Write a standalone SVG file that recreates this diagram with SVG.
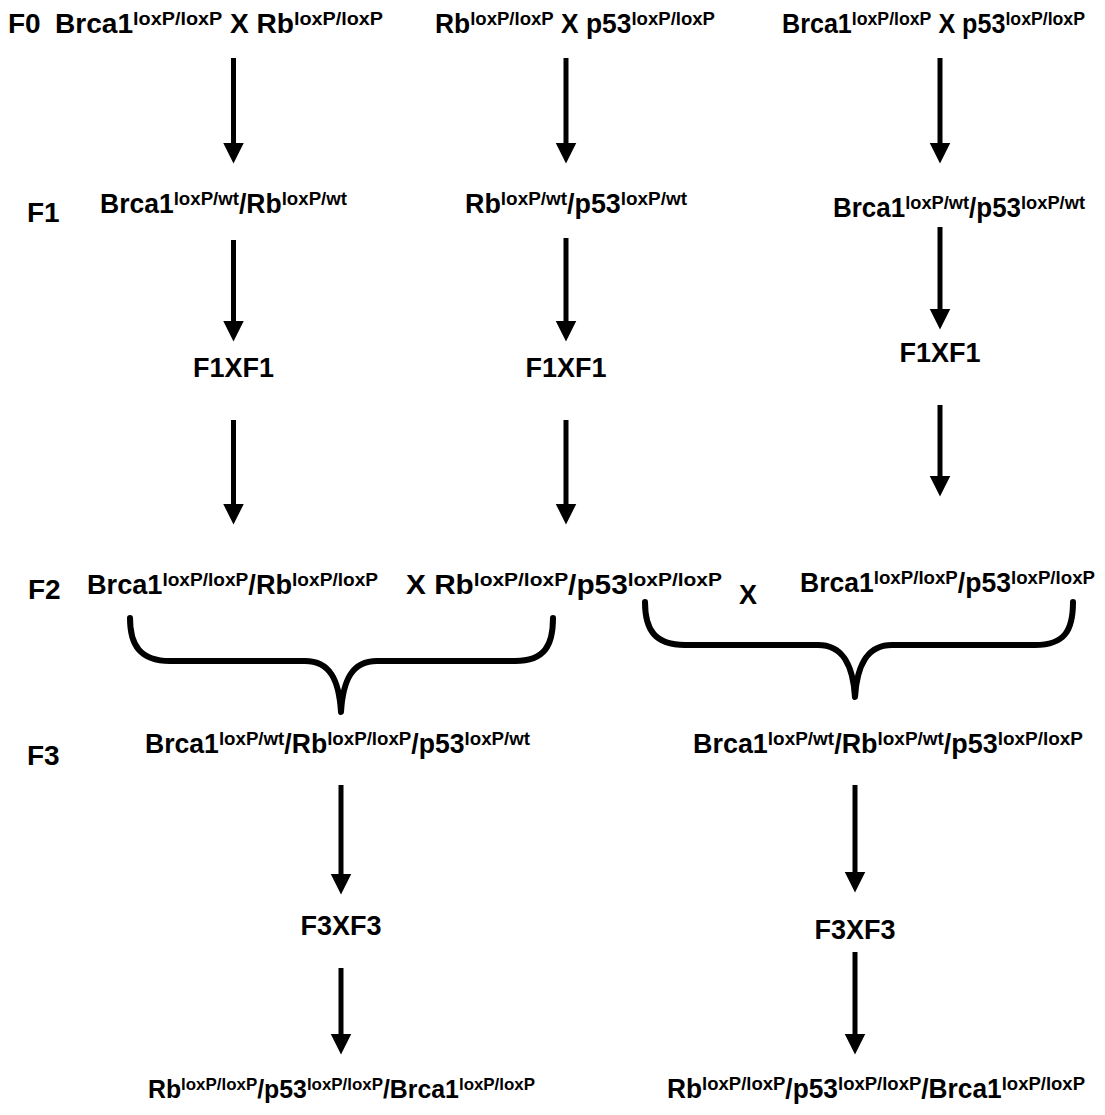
<svg xmlns="http://www.w3.org/2000/svg" width="1105" height="1115" viewBox="0 0 1105 1115">
<style>
text{font-family:"Liberation Sans",Arial,sans-serif;font-weight:bold;fill:#000;font-size:27px}
.s{font-size:19px}
.lbl{font-size:28px}
.sm{font-size:25px}
.sm .s{font-size:17px}
.arr{stroke:#000;stroke-width:5;fill:none;marker-end:url(#ah)}
.brace{stroke:#000;stroke-width:6;fill:none;stroke-linecap:round;stroke-linejoin:round}
</style>
<defs>
<marker id="ah" markerUnits="userSpaceOnUse" markerWidth="22" markerHeight="22" refX="0.5" refY="10.5" orient="auto">
<path d="M0,0 L21,10.5 L0,21 z" fill="#000"/>
</marker>
</defs>
<rect width="1105" height="1115" fill="#fff"/>
<g id="connectors">
<line class="arr" x1="233.5" y1="58" x2="233.5" y2="143"/>
<line class="arr" x1="566" y1="58" x2="566" y2="143"/>
<line class="arr" x1="940" y1="58" x2="940" y2="143"/>
<line class="arr" x1="233.5" y1="240" x2="233.5" y2="321"/>
<line class="arr" x1="566" y1="238" x2="566" y2="321"/>
<line class="arr" x1="940" y1="227" x2="940" y2="309"/>
<line class="arr" x1="233.5" y1="420" x2="233.5" y2="504"/>
<line class="arr" x1="566" y1="420" x2="566" y2="504"/>
<line class="arr" x1="940" y1="405" x2="940" y2="476"/>
<line class="arr" x1="341" y1="785" x2="341" y2="874"/>
<line class="arr" x1="855" y1="785" x2="855" y2="872"/>
<line class="arr" x1="341" y1="968" x2="341" y2="1034"/>
<line class="arr" x1="855" y1="952" x2="855" y2="1034"/>
<path class="brace" d="M130,618 C130,645 140,661 170,661 L305,661 C330,661 339,680 341,712 C343,680 352,661 377,661 L515,661 C545,661 553,645 553,618"/>
<path class="brace" d="M645,602 C645,630 655,645 685,645 L818,645 C843,645 853,665 855,697 C857,665 867,645 892,645 L1035,645 C1065,645 1073,630 1073,602"/>
</g>
<g id="labels">
<text class="lbl" x="8" y="33">F0</text>
<text class="lbl" x="27" y="222">F1</text>
<text class="lbl" x="28" y="599">F2</text>
<text class="lbl" x="27" y="765">F3</text>
</g>
<g id="f0-left"><text x="55" y="33" textLength="328" lengthAdjust="spacingAndGlyphs">Brca1<tspan class="s" dy="-8">loxP/loxP</tspan><tspan dy="8"> X Rb</tspan><tspan class="s" dy="-8">loxP/loxP</tspan></text></g>
<g id="f0-mid"><text x="435" y="33" textLength="280" lengthAdjust="spacingAndGlyphs">Rb<tspan class="s" dy="-8">loxP/loxP</tspan><tspan dy="8"> X p53</tspan><tspan class="s" dy="-8">loxP/loxP</tspan></text></g>
<g id="f0-right"><text x="782" y="33" textLength="303" lengthAdjust="spacingAndGlyphs">Brca1<tspan class="s" dy="-8">loxP/loxP</tspan><tspan dy="8"> X p53</tspan><tspan class="s" dy="-8">loxP/loxP</tspan></text></g>
<g id="f1-left"><text x="100" y="213" textLength="247" lengthAdjust="spacingAndGlyphs">Brca1<tspan class="s" dy="-8">loxP/wt</tspan><tspan dy="8">/Rb</tspan><tspan class="s" dy="-8">loxP/wt</tspan></text></g>
<g id="f1-mid"><text x="465" y="213" textLength="222" lengthAdjust="spacingAndGlyphs">Rb<tspan class="s" dy="-8">loxP/wt</tspan><tspan dy="8">/p53</tspan><tspan class="s" dy="-8">loxP/wt</tspan></text></g>
<g id="f1-right"><text x="833" y="217" textLength="252" lengthAdjust="spacingAndGlyphs">Brca1<tspan class="s" dy="-8">loxP/wt</tspan><tspan dy="8">/p53</tspan><tspan class="s" dy="-8">loxP/wt</tspan></text></g>
<g id="f1xf1-left"><text x="233.5" y="377" text-anchor="middle">F1XF1</text></g>
<g id="f1xf1-mid"><text x="566" y="377" text-anchor="middle">F1XF1</text></g>
<g id="f1xf1-right"><text x="940" y="362" text-anchor="middle">F1XF1</text></g>
<g id="f2-left"><text x="87" y="594" textLength="291" lengthAdjust="spacingAndGlyphs">Brca1<tspan class="s" dy="-8">loxP/loxP</tspan><tspan dy="8">/Rb</tspan><tspan class="s" dy="-8">loxP/loxP</tspan></text></g>
<g id="f2-mid"><text x="406" y="594" textLength="316" lengthAdjust="spacingAndGlyphs">X Rb<tspan class="s" dy="-8">loxP/loxP</tspan><tspan dy="8">/p53</tspan><tspan class="s" dy="-8">loxP/loxP</tspan></text></g>
<g id="f2-x"><text x="739" y="604">X</text></g>
<g id="f2-right"><text x="800" y="592" textLength="295" lengthAdjust="spacingAndGlyphs">Brca1<tspan class="s" dy="-8">loxP/loxP</tspan><tspan dy="8">/p53</tspan><tspan class="s" dy="-8">loxP/loxP</tspan></text></g>
<g id="f3-left"><text x="145" y="753" textLength="385" lengthAdjust="spacingAndGlyphs">Brca1<tspan class="s" dy="-8">loxP/wt</tspan><tspan dy="8">/Rb</tspan><tspan class="s" dy="-8">loxP/loxP</tspan><tspan dy="8">/p53</tspan><tspan class="s" dy="-8">loxP/wt</tspan></text></g>
<g id="f3-right"><text x="693" y="753" textLength="390" lengthAdjust="spacingAndGlyphs">Brca1<tspan class="s" dy="-8">loxP/wt</tspan><tspan dy="8">/Rb</tspan><tspan class="s" dy="-8">loxP/wt</tspan><tspan dy="8">/p53</tspan><tspan class="s" dy="-8">loxP/loxP</tspan></text></g>
<g id="f3xf3-left"><text x="341" y="935" text-anchor="middle">F3XF3</text></g>
<g id="f3xf3-right"><text x="855" y="939" text-anchor="middle">F3XF3</text></g>
<g id="final-left"><text class="sm" x="148" y="1098" textLength="387" lengthAdjust="spacingAndGlyphs">Rb<tspan class="s" dy="-8">loxP/loxP</tspan><tspan dy="8">/p53</tspan><tspan class="s" dy="-8">loxP/loxP</tspan><tspan dy="8">/Brca1</tspan><tspan class="s" dy="-8">loxP/loxP</tspan></text></g>
<g id="final-right"><text x="667" y="1098" textLength="418" lengthAdjust="spacingAndGlyphs">Rb<tspan class="s" dy="-8">loxP/loxP</tspan><tspan dy="8">/p53</tspan><tspan class="s" dy="-8">loxP/loxP</tspan><tspan dy="8">/Brca1</tspan><tspan class="s" dy="-8">loxP/loxP</tspan></text></g>
</svg>
